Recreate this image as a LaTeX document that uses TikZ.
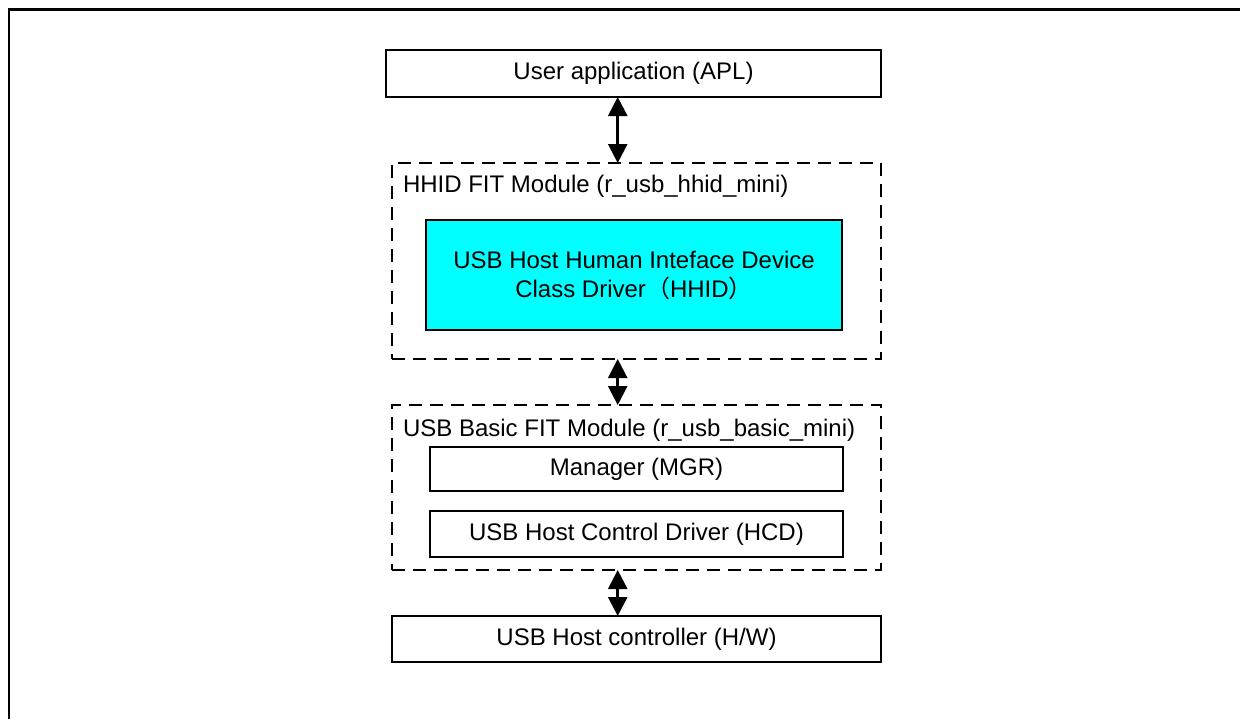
\documentclass[tikz,border=0pt]{standalone}
\usepackage{fontspec}
\setmainfont{Liberation Sans}
\newfontfamily\cjk{Noto Sans CJK SC}
\usetikzlibrary{arrows.meta}
\definecolor{hhidcyan}{HTML}{00FFFF}
\begin{document}
\begin{tikzpicture}[x=0.5pt,y=-0.5pt,
  every node/.style={font=\fontsize{12}{14.5}\selectfont, inner sep=0pt, outer sep=0pt},
  solidbox/.style={draw, line width=0.75pt, minimum width=#1},
  dashbox/.style={draw, line width=0.9pt, dash pattern=on 6.5pt off 4pt, minimum width=244.5pt},
  biarrow/.style={line width=1.3pt, {Triangle[width=9.5pt,length=9.5pt]}-{Triangle[width=9.5pt,length=9.5pt]}, shorten <=0pt, shorten >=0pt}
]
\useasboundingbox (0,0) rectangle (1240,719);
\draw[line width=1.2pt] (9,719) -- (9,9.5) -- (1240,9.5);

\node[solidbox=247.5pt, minimum height=23.5pt] (apl) at (633.5,73.5) {User application (APL)};
\node[dashbox, minimum height=98pt] (hhid) at (636.5,261) {};
\node[anchor=west] (hhidlbl) at (403,186) {HHID FIT Module (r\_usb\_hhid\_mini)};
\node[solidbox=208pt, minimum height=55pt, fill=hhidcyan, align=center] (drv) at (634,275)
  {USB Host Human Inteface Device\\Class Driver{\cjk（}HHID{\cjk）}};

\node[dashbox, minimum height=82.5pt] (basic) at (636.5,487.5) {};
\node[anchor=west] (basiclbl) at (403,430) {USB Basic FIT Module (r\_usb\_basic\_mini)};
\node[solidbox=206.5pt, minimum height=22pt] (mgr) at (636.5,469) {Manager (MGR)};
\node[solidbox=206.5pt, minimum height=23pt] (hcd) at (636.5,534) {USB Host Control Driver (HCD)};

\node[solidbox=244.5pt, minimum height=23pt] (hw) at (636.5,639) {USB Host controller (H/W)};

\coordinate (ax) at (617.7,0);
\draw[biarrow] (apl.south -| ax) -- (hhid.north -| ax);
\draw[biarrow] (hhid.south -| ax) -- (basic.north -| ax);
\draw[biarrow] (basic.south -| ax) -- (hw.north -| ax);
\end{tikzpicture}
\end{document}
